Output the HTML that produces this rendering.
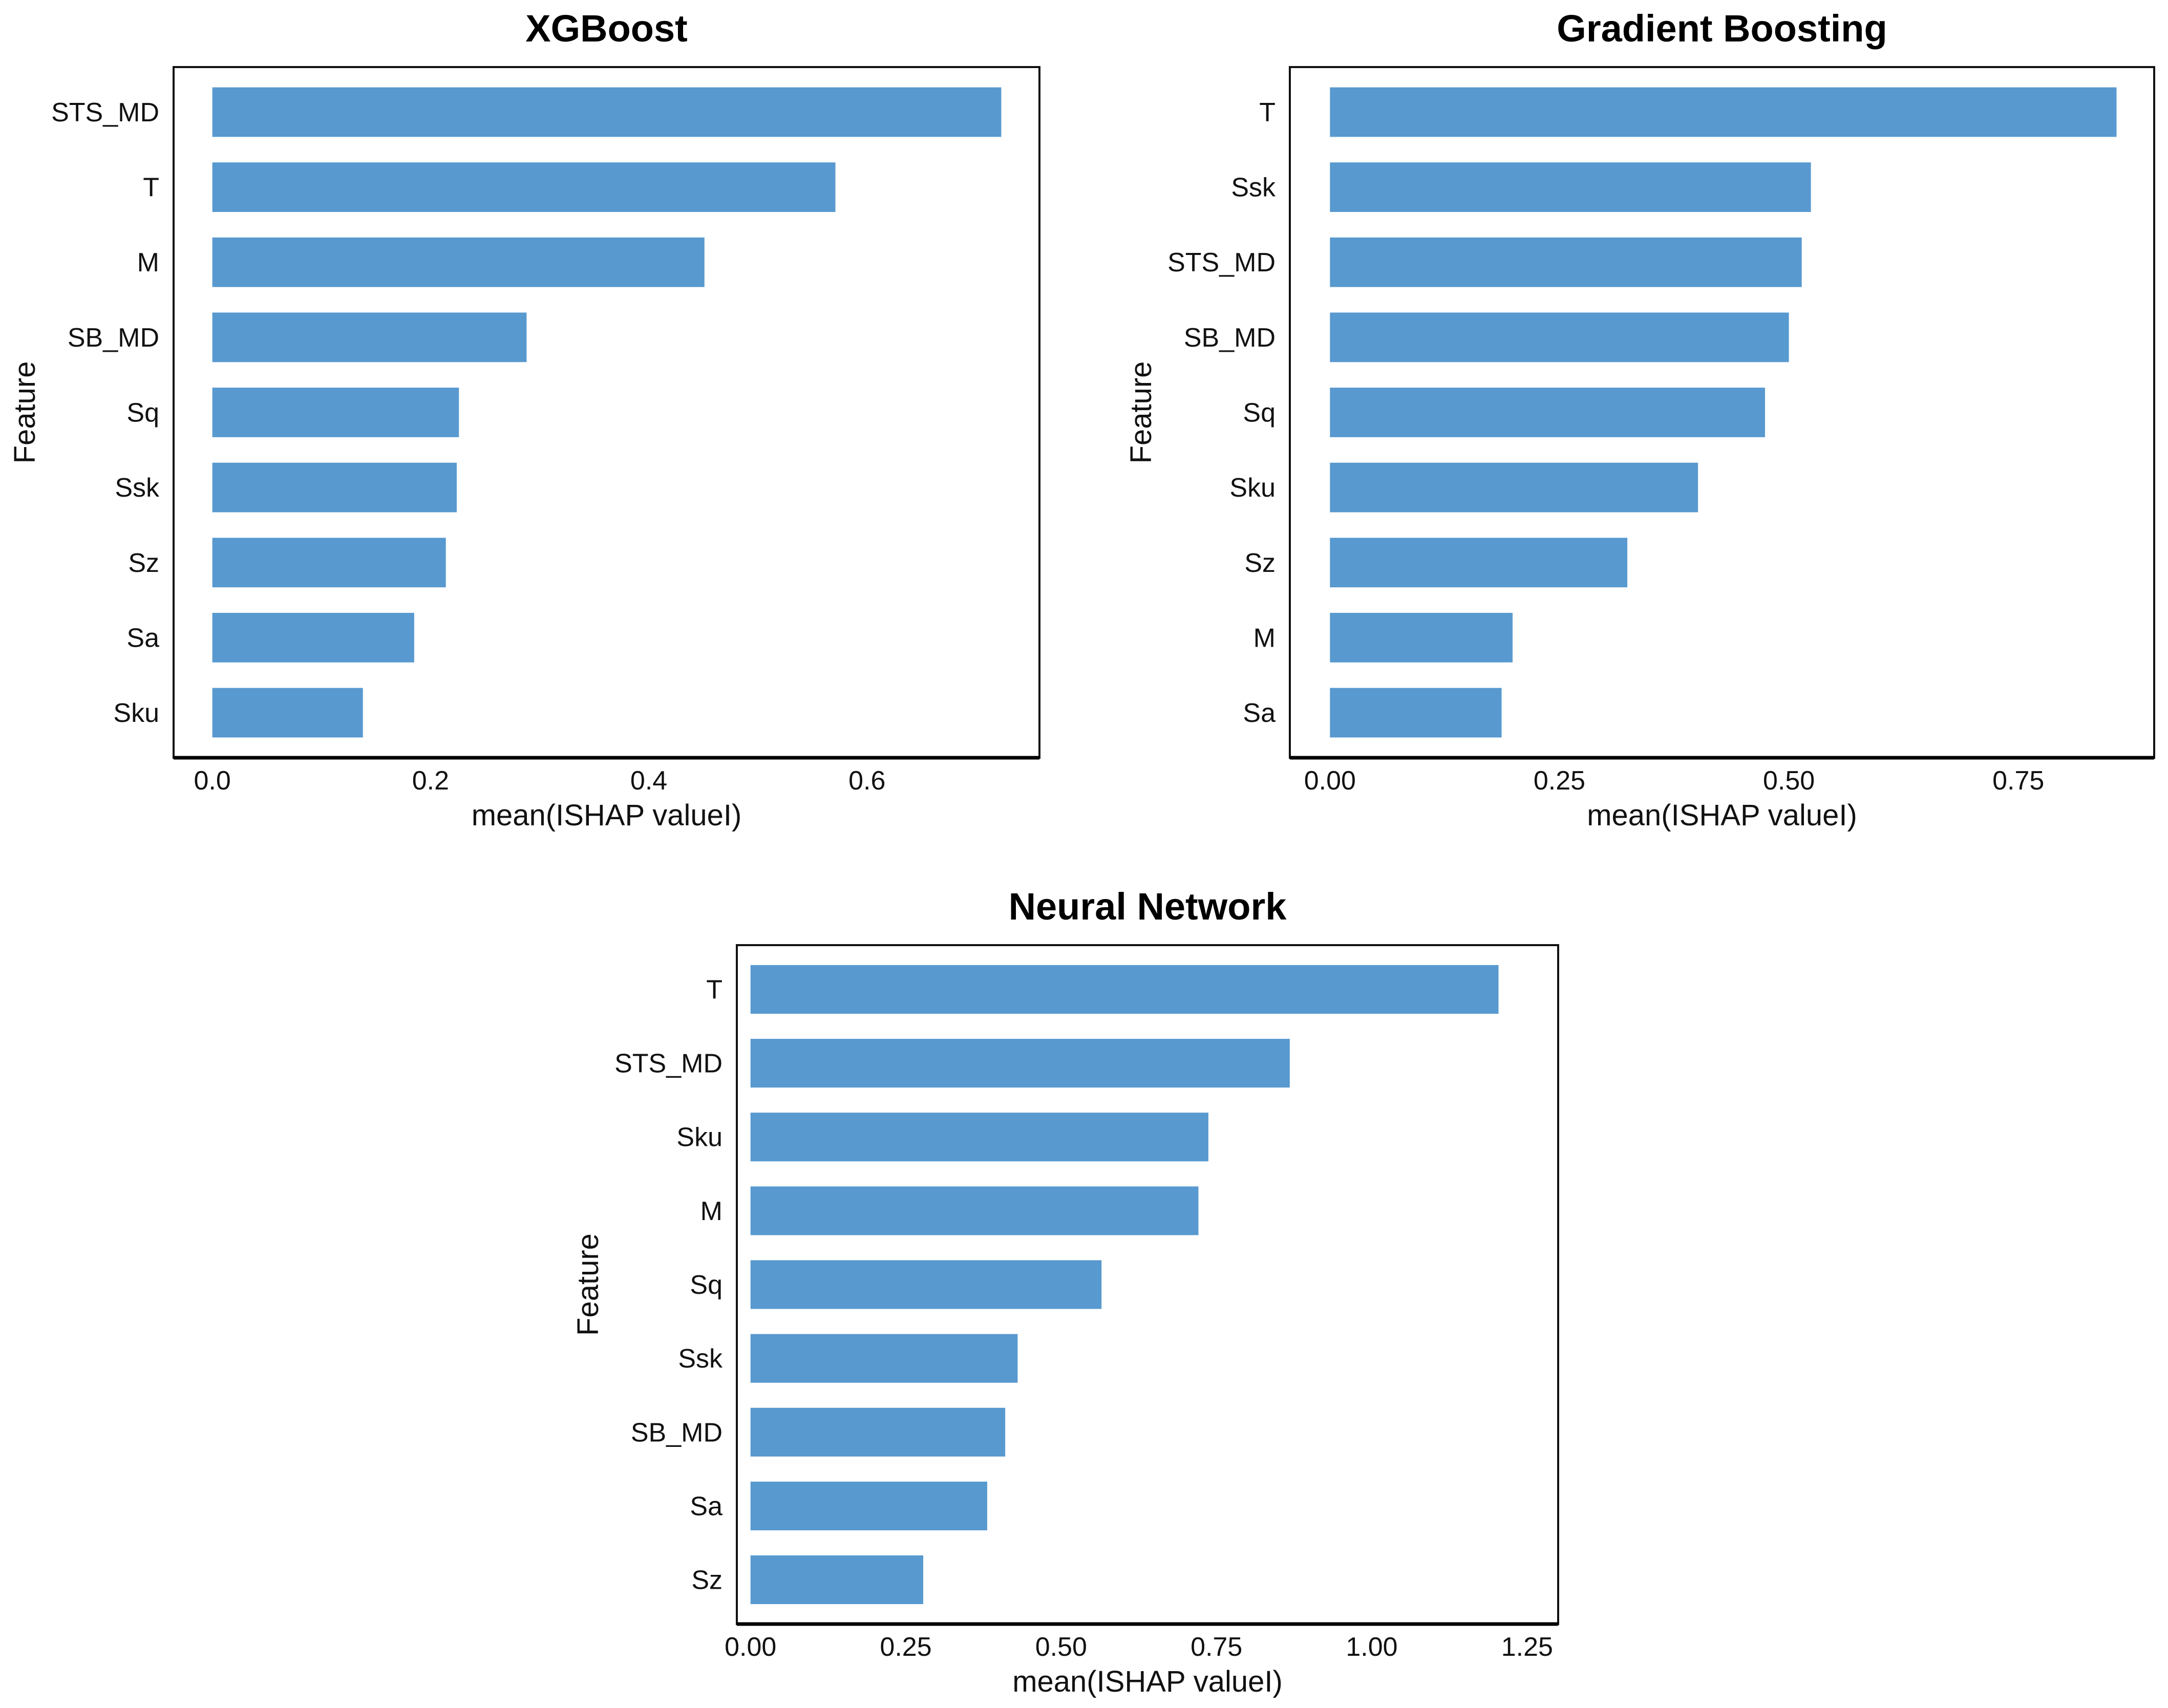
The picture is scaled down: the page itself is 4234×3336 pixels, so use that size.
<!DOCTYPE html>
<html><head><meta charset="utf-8"><style>
body{margin:0;background:#fff}
svg{display:block;font-family:"Liberation Sans",Arial,sans-serif}
</style></head><body>
<svg id="chart" xmlns="http://www.w3.org/2000/svg" width="4234" height="3336" viewBox="0 0 4234 3336"></svg>
<script>
const xgbFeatures = ["STS_MD","T","M","SB_MD","Sq","Ssk","Sz","Sa","Sku"];
const xgbValues = [0.723,0.571,0.451,0.288,0.226,0.224,0.214,0.185,0.138];
const xgbTicks = [0,0.2,0.4,0.6];
const xgbTickLabels = ["0.0","0.2","0.4","0.6"];
const xgbDomain = [-0.0355,0.758];

const gbFeatures = ["T","Ssk","STS_MD","SB_MD","Sq","Sku","Sz","M","Sa"];
const gbValues = [0.857,0.524,0.514,0.500,0.474,0.401,0.324,0.199,0.187];
const gbTicks = [0,0.25,0.5,0.75];
const gbTickLabels = ["0.00","0.25","0.50","0.75"];
const gbDomain = [-0.0437,0.898];

const nnFeatures = ["T","STS_MD","Sku","M","Sq","Ssk","SB_MD","Sa","Sz"];
const nnValues = [1.204,0.868,0.737,0.721,0.565,0.430,0.410,0.381,0.278];
const nnTicks = [0,0.25,0.5,0.75,1.0,1.25];
const nnTickLabels = ["0.00","0.25","0.50","0.75","1.00","1.25"];
const nnDomain = [-0.022,1.30];

const NS="http://www.w3.org/2000/svg";
const svg=document.getElementById('chart');
function mk(tag,attrs,parent){const e=document.createElementNS(NS,tag);for(const k in attrs)e.setAttribute(k,attrs[k]);(parent||svg).appendChild(e);return e;}

function panel(key,title,features,values,ticks,tickLabels,domain,L,T,R,B,ytx){
  const g=mk('g',{});
  
  
  const dmin=domain[0], dmax=domain[1];
  const xs=v=>L+(v-dmin)/(dmax-dmin)*(R-L);
  const n=features.length;
  const step=(B-T)/(n-1+1.2);
  const ys=i=>T+step*(0.6+i);
  const bh=step*0.66;
  features.forEach((f,i)=>{
    const r=mk('rect',{x:xs(0),y:ys(i)-bh/2,width:xs(values[i])-xs(0),height:bh,fill:'#5899CF'},g);
    
    
    const t=mk('text',{x:L-28,y:ys(i)+18,'text-anchor':'end','font-size':52,fill:'#111'},g);
    t.textContent=f;
    
    
  });
  const fr=mk('rect',{x:L,y:T,width:R-L,height:B-T,fill:'none',stroke:'#111','stroke-width':4},g);
  
  
  const ax=mk('line',{x1:L,x2:R,y1:B,y2:B,stroke:'#000','stroke-width':7},g);
  
  
  ticks.forEach((v,i)=>{
    const t=mk('text',{x:xs(v),y:B+62,'text-anchor':'middle','font-size':52,fill:'#111'},g);
    t.textContent=tickLabels[i];
    
    
  });
  const tt=mk('text',{x:(L+R)/2,y:T-50,'text-anchor':'middle','font-size':74,'font-weight':'bold',fill:'#000'},g);
  tt.textContent=title;
  
  
  const xt=mk('text',{x:(L+R)/2,y:B+132,'text-anchor':'middle','font-size':58,fill:'#111'},g);
  xt.textContent='mean(ISHAP valueI)';
  
  
  const cy=(T+B)/2, cx=ytx;
  const yt=mk('text',{x:cx,y:cy,'text-anchor':'middle','font-size':58,fill:'#111',transform:`rotate(-90 ${cx} ${cy})`},g);
  yt.textContent='Feature';
  
  
}
panel('xgboost','XGBoost',xgbFeatures,xgbValues,xgbTicks,xgbTickLabels,xgbDomain,339,131,2030,1480,68);
panel('gradient-boosting','Gradient Boosting',gbFeatures,gbValues,gbTicks,gbTickLabels,gbDomain,2519,131,4207,1480,2248);
panel('neural-network','Neural Network',nnFeatures,nnValues,nnTicks,nnTickLabels,nnDomain,1439,1846,3043,3172,1168);
</script>
</body></html>
